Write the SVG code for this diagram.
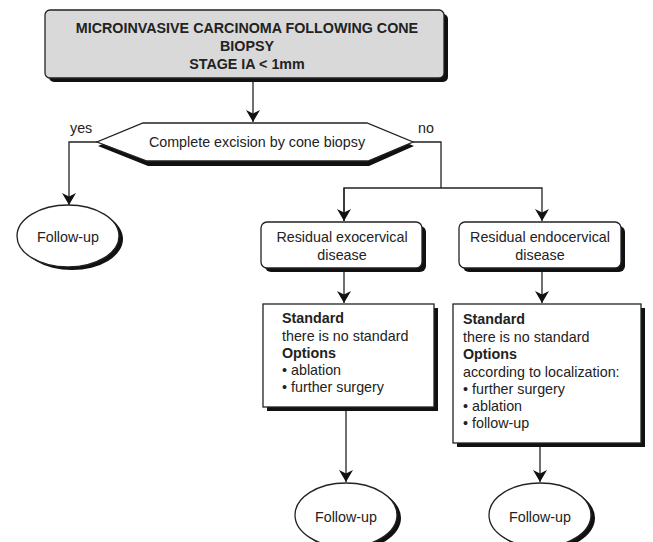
<svg xmlns="http://www.w3.org/2000/svg" width="653" height="542" viewBox="0 0 653 542">
  <style>
    .t { font-family: "Liberation Sans", Arial, sans-serif; font-size: 14.3px; fill: #222; }
    .b { font-weight: bold; }
    .m { text-anchor: middle; }
    .box { fill: #fff; stroke: #222; stroke-width: 1.3; }
    .sh { fill: #111; stroke: none; }
    .ln { fill: none; stroke: #222; stroke-width: 1.3; }
  </style>
  <defs>
    <marker id="arr" viewBox="0 0 12 14" refX="12" refY="7" markerWidth="12" markerHeight="14" markerUnits="userSpaceOnUse" orient="auto">
      <path d="M0,0 L12,7 L0,14 L3.5,7 z" fill="#111"/>
    </marker>
  </defs>
  <rect width="653" height="542" fill="#fff"/>

  <!-- connectors -->
  <g id="connectors" class="ln">
    <path d="M253,78 V122" marker-end="url(#arr)"/>
    <path d="M97,142 H69 V205" marker-end="url(#arr)"/>
    <path d="M413,142 H441 V188"/>
    <path d="M344,221 V188 H542 V221" marker-end="url(#arr)"/>
    <path d="M344,188 V221" marker-end="url(#arr)"/>
    <path d="M344,268 V303" marker-end="url(#arr)"/>
    <path d="M542,268 V303" marker-end="url(#arr)"/>
    <path d="M346,407 V482" marker-end="url(#arr)"/>
    <path d="M540,443 V482" marker-end="url(#arr)"/>
  </g>

  <!-- title -->
  <g id="title">
    <rect class="sh" x="49" y="14" width="399" height="68" rx="5"/>
    <rect x="45" y="10" width="399" height="68" rx="5" fill="#d9d9d9" stroke="#222" stroke-width="1.3"/>
    <text class="t b m" x="247" y="33">MICROINVASIVE CARCINOMA FOLLOWING CONE</text>
    <text class="t b m" x="247" y="51">BIOPSY</text>
    <text class="t b m" x="247" y="69">STAGE IA &lt; 1mm</text>
  </g>

  <!-- decision -->
  <g id="decision">
    <polygon class="sh" points="144,127 368,127 414,146 369,166 148,166 98,146"/>
    <polygon class="box" points="143,123 367,123 413,142 368,161 147,161 97,142"/>
    <text class="t m" x="257" y="147">Complete excision by cone biopsy</text>
    <text class="t" x="70" y="133">yes</text>
    <text class="t" x="418" y="133">no</text>
  </g>

  <!-- follow-up after complete excision -->
  <g id="followup-yes">
    <ellipse class="sh" cx="72" cy="239" rx="51" ry="31"/>
    <ellipse class="box" cx="68" cy="236" rx="51" ry="31"/>
    <text class="t m" x="68" y="242">Follow-up</text>
  </g>

  <!-- residual exocervical -->
  <g id="residual-exo">
    <rect class="sh" x="265" y="226" width="161" height="46" rx="6"/>
    <rect class="box" x="261" y="222" width="161" height="46" rx="6"/>
    <text class="t m" x="342" y="242">Residual exocervical</text>
    <text class="t m" x="342" y="260">disease</text>
  </g>

  <!-- residual endocervical -->
  <g id="residual-endo">
    <rect class="sh" x="463" y="226" width="162" height="46" rx="6"/>
    <rect class="box" x="459" y="222" width="162" height="46" rx="6"/>
    <text class="t m" x="540" y="242">Residual endocervical</text>
    <text class="t m" x="540" y="260">disease</text>
  </g>

  <!-- options for exocervical disease -->
  <g id="options-exo">
    <rect class="sh" x="267" y="308" width="171" height="103"/>
    <rect class="box" x="263" y="304" width="171" height="103"/>
    <text class="t b" x="282" y="323">Standard</text>
    <text class="t" x="282" y="341">there is no standard</text>
    <text class="t b" x="282" y="358">Options</text>
    <text class="t" x="282" y="375">• ablation</text>
    <text class="t" x="282" y="392">• further surgery</text>
  </g>

  <!-- options for endocervical disease -->
  <g id="options-endo">
    <rect class="sh" x="457" y="308" width="188" height="139"/>
    <rect class="box" x="453" y="304" width="188" height="139"/>
    <text class="t b" x="463" y="324">Standard</text>
    <text class="t" x="463" y="342">there is no standard</text>
    <text class="t b" x="463" y="359">Options</text>
    <text class="t" x="463" y="377">according to localization:</text>
    <text class="t" x="463" y="394">• further surgery</text>
    <text class="t" x="463" y="411">• ablation</text>
    <text class="t" x="463" y="428">• follow-up</text>
  </g>

  <!-- follow-up after exocervical options -->
  <g id="followup-exo">
    <ellipse class="sh" cx="350" cy="518" rx="51" ry="32"/>
    <ellipse class="box" cx="346" cy="515" rx="51" ry="32"/>
    <text class="t m" x="346" y="522">Follow-up</text>
  </g>

  <!-- follow-up after endocervical options -->
  <g id="followup-endo">
    <ellipse class="sh" cx="544" cy="518" rx="51" ry="32"/>
    <ellipse class="box" cx="540" cy="515" rx="51" ry="32"/>
    <text class="t m" x="540" y="522">Follow-up</text>
  </g>
</svg>
